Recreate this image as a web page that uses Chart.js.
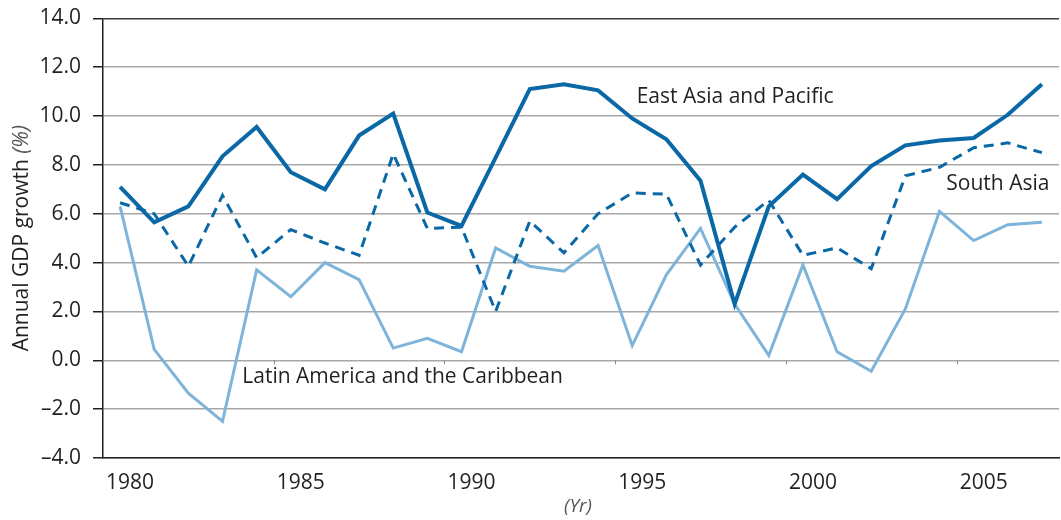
<!DOCTYPE html>
<html>
<head>
<meta charset="utf-8">
<script src="https://cdn.jsdelivr.net/npm/chart.js@4.4.1/dist/chart.umd.min.js"></script>
<style>
    html, body { margin: 0; padding: 0; background: #fff; }
    #wrap { width: 1061px; height: 520px; position: relative; }
</style>
</head>
<body>
<div id="wrap"><canvas id="growthChart"></canvas></div>
<script>
const years = ['1980', '1981', '1982', '1983', '1984', '1985', '1986', '1987', '1988', '1989',
    '1990', '1991', '1992', '1993', '1994', '1995', '1996', '1997', '1998', '1999',
    '2000', '2001', '2002', '2003', '2004', '2005', '2006', '2007'];

const eastAsia = [7.1, 5.65, 6.3, 8.35, 9.55, 7.7, 7.0, 9.2, 10.1, 6.05,
    5.5, 8.3, 11.1, 11.3, 11.05, 9.9, 9.05, 7.35, 2.3, 6.3,
    7.6, 6.6, 7.95, 8.8, 9.0, 9.1, 10.05, 11.3];

const southAsia = [6.45, 6.0, 3.85, 6.75, 4.2, 5.35, 4.8, 4.3, 8.45, 5.4,
    5.45, 2.0, 5.7, 4.4, 6.0, 6.85, 6.8, 3.9, 5.45, 6.55,
    4.3, 4.6, 3.75, 7.55, 7.9, 8.7, 8.9, 8.5];

const latinAmerica = [6.3, 0.45, -1.35, -2.5, 3.7, 2.6, 4.0, 3.3, 0.5, 0.9,
    0.35, 4.6, 3.85, 3.65, 4.7, 0.6, 3.5, 5.4, 2.3, 0.2,
    3.9, 0.35, -0.45, 2.1, 6.1, 4.9, 5.55, 5.65];

const seriesNames = ['East Asia and Pacific', 'South Asia', 'Latin America and the Caribbean'];
// where each series name sits, in data units (category index, value)
const nameAnchorX = [15.13, 24.2, 3.58];
const nameAnchorY = [10.76, 7.2, -0.7];

const yTicks = [-4, -2, 0, 2, 4, 6, 8, 10, 12, 14];

const darkBlue = '#0a68a6';
const lightBlue = '#7fb4da';
const ink = '#231f20';
const gridGrey = '#a8a8a8';
const fontFamily = '"Open Sans", "DejaVu Sans", sans-serif';

const fmtTick = (v) => (v < 0 ? '\u2013' : '') + Math.abs(v).toFixed(1);

// axis titles with the italic unit part, plus the series names on the plot
const textPlugin = {
    id: 'textPlugin',
    afterDatasetsDraw(chart) {
        const { ctx, scales } = chart;
        ctx.save();
        ctx.fillStyle = ink;
        ctx.textBaseline = 'middle';
        ctx.textAlign = 'left';
        ctx.font = `21px ${fontFamily}`;
        seriesNames.forEach((name, i) => {
            const px = scales.x.getPixelForValue(nameAnchorX[i]);
            const py = scales.y.getPixelForValue(nameAnchorY[i]);
            ctx.fillText(name, px, py);
        });

        // small ticks on the zero line every five years
        const step = scales.x.getPixelForValue(1) - scales.x.getPixelForValue(0);
        const y0 = scales.y.getPixelForValue(0);
        ctx.strokeStyle = '#8a8a8a';
        ctx.lineWidth = 1;
        for (let i = 0; i < years.length; i += 5) {
            const tx = Math.round(scales.x.getPixelForValue(i) - step / 2) + 0.5;
            ctx.beginPath();
            ctx.moveTo(tx, y0);
            ctx.lineTo(tx, y0 + 4);
            ctx.stroke();
        }
        ctx.restore();
    },
    afterDraw(chart) {
        const { ctx, chartArea } = chart;
        ctx.save();
        // y title
        const main = 'Annual GDP growth ';
        const unit = '(%)';
        ctx.font = `21px ${fontFamily}`;
        const wMain = ctx.measureText(main).width;
        ctx.font = `italic 21px ${fontFamily}`;
        const wUnit = ctx.measureText(unit).width;
        const total = wMain + wUnit;
        ctx.translate(22, (chartArea.top + chartArea.bottom) / 2);
        ctx.rotate(-Math.PI / 2);
        ctx.textBaseline = 'middle';
        ctx.textAlign = 'left';
        ctx.font = `21px ${fontFamily}`;
        ctx.fillStyle = ink;
        ctx.fillText(main, -total / 2, 0);
        ctx.font = `italic 21px ${fontFamily}`;
        ctx.fillStyle = '#555';
        ctx.fillText(unit, -total / 2 + wMain, 0);
        ctx.restore();

        // x title
        ctx.save();
        ctx.font = `italic 19px ${fontFamily}`;
        ctx.fillStyle = '#555';
        ctx.textAlign = 'center';
        ctx.textBaseline = 'middle';
        ctx.fillText('(Yr)', 578, 507);
        ctx.restore();
    }
};

const chartCanvas = document.getElementById('growthChart');
new Chart(chartCanvas.getContext('2d'), {
    type: 'line',
    data: {
        labels: years,
        datasets: [
            {
                label: seriesNames[0],
                data: eastAsia,
                borderColor: darkBlue,
                borderWidth: 4,
                pointRadius: 0,
                tension: 0
            },
            {
                label: seriesNames[1],
                data: southAsia,
                borderColor: darkBlue,
                borderWidth: 3,
                borderDash: [10, 7],
                pointRadius: 0,
                tension: 0
            },
            {
                label: seriesNames[2],
                data: latinAmerica,
                borderColor: lightBlue,
                borderWidth: 3,
                pointRadius: 0,
                tension: 0
            }
        ]
    },
    options: {
        responsive: true,
        maintainAspectRatio: false,
        animation: false,
        layout: { padding: { left: 0, right: 2, top: 18, bottom: 0 } },
        plugins: {
            legend: { display: false },
            tooltip: { enabled: false }
        },
        scales: {
            x: {
                offset: true,
                grid: { display: true, color: 'transparent', drawTicks: false, offset: true },
                border: { display: true, color: ink, width: 1.5 },
                ticks: {
                    autoSkip: false,
                    maxRotation: 0,
                    labelOffset: 10,
                    padding: 12,
                    color: ink,
                    font: { family: fontFamily, size: 21 },
                    callback: (v, i) => (i % 5 === 0 ? years[i] : '')
                },
                afterFit: (scale) => { scale.height = 62; }
            },
            y: {
                min: yTicks[0],
                max: yTicks[yTicks.length - 1],
                afterBuildTicks: (scale) => { scale.ticks = yTicks.map(v => ({ value: v })); },
                grid: {
                    color: (c) => (c.tick && c.tick.value === 14 ? '#3a3a3a' : gridGrey),
                    lineWidth: 1.5,
                    tickColor: ink,
                    tickLength: 10
                },
                border: { display: true, color: ink, width: 1.5 },
                ticks: {
                    padding: 12,
                    color: ink,
                    font: { family: fontFamily, size: 21, lineHeight: 0.6 },
                    callback: (v) => fmtTick(v)
                },
                afterFit: (scale) => { scale.width = 103; }
            }
        }
    },
    plugins: [textPlugin]
});
</script>
</body>
</html>
